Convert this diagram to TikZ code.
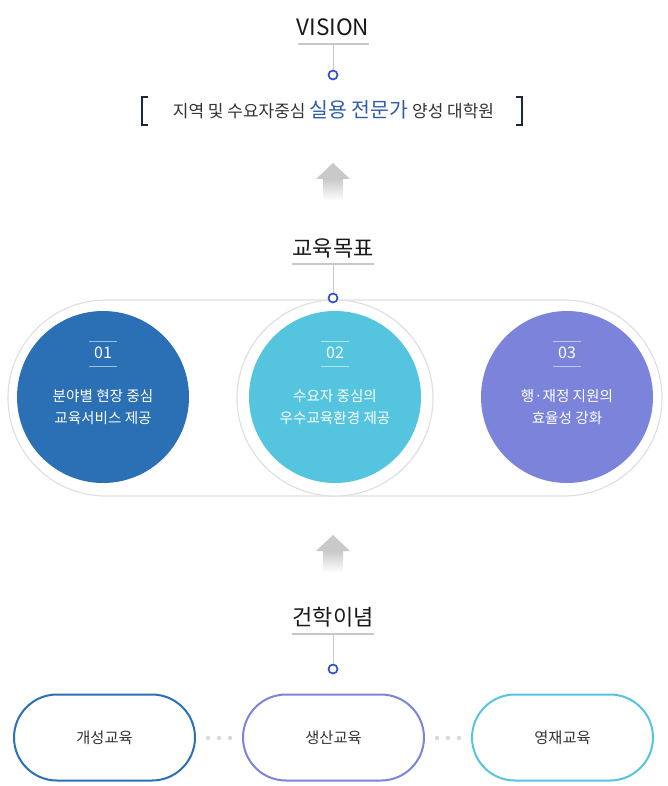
\documentclass[tikz,border=0pt]{standalone}
\usepackage{fontspec}
\setmainfont{Noto Sans CJK KR}
\definecolor{cA}{HTML}{2B6FB4}
\definecolor{cB}{HTML}{55C5DF}
\definecolor{cC}{HTML}{7B84DA}
\definecolor{dotblue}{HTML}{2F4FC9}
\definecolor{brk}{HTML}{1C2541}
\definecolor{bluetxt}{HTML}{2F5DAA}
\definecolor{ulc}{HTML}{C8C8C8}
\definecolor{ringc}{HTML}{E0E0E0}
\definecolor{txt}{HTML}{333333}
\definecolor{arr}{HTML}{C9C9C9}
\tikzset{
  title/.style={font=\fontsize{22}{22}\selectfont, text=black!90, inner sep=0},
  uline/.style={draw=ulc, line width=2pt},
  conn/.style={draw=ulc, line width=1pt},
  hub/.style={circle, draw=dotblue, line width=1.7pt, fill=white, inner sep=0, minimum size=9pt},
  ring/.style={draw=ringc, line width=1.2pt},
  disc/.style={circle, inner sep=0, minimum size=172pt},
  numtxt/.style={font=\fontsize{16}{16}\selectfont, text=white, inner sep=0},
  numline/.style={draw=white, draw opacity=0.55, line width=1pt},
  disctxt/.style={font=\fontsize{14.6}{22}\selectfont, text=white, align=center, inner sep=0},
  pill/.style={draw, line width=2pt, fill=white, rounded corners=43pt, minimum width=181pt, minimum height=86pt, inner sep=0, font=\fontsize{15.3}{15.3}\selectfont, text=txt},
  sep/.style={circle, fill=black!15, inner sep=0, minimum size=4.5pt},
  brack/.style={draw=brk, line width=2.2pt},
}
\begin{document}
\begin{tikzpicture}[x=1pt,y=-1pt]
\useasboundingbox (0,0) rectangle (668,786);
% ---------- VISION ----------
\node[title, font=\fontsize{22.5}{22.5}\selectfont] (vision) at (333,27) {VISION};
\draw[uline] (298,44) -- (369,44);
\coordinate (vu) at (333,45);
\node[hub] (vhub) at (333,75) {};
\draw[conn] (vu) -- (vhub);
\node[inner sep=0, text=txt] (vtext) at (333.5,109.5) {\fontsize{17}{17}\selectfont 지역 및 수요자중심 {\fontsize{20.5}{20.5}\selectfont\color{bluetxt}실용 전문가} 양성 대학원};
\draw[brack] (148,97) -- (142,97) -- (142,125) -- (148,125);
\draw[brack] (516,97) -- (522,97) -- (522,125) -- (516,125);
% arrow 1
\fill[arr] (316,179) -- (333,163) -- (350,179) -- cycle;
\shade[top color=arr, bottom color=white] (323,178.5) rectangle (343,201);
% ---------- 교육목표 ----------
\draw[ring, rounded corners=98pt] (8,300) rectangle (662,496);
\draw[ring, fill=white] (335,398) circle[radius=98];
\node[title] (goal) at (333,248) {교육목표};
\draw[uline] (292,264) -- (374,264);
\coordinate (gu) at (333,265);
\node[hub] (ghub) at (333,298) {};
\draw[conn] (gu) -- (ghub);
% discs
\node[disc, fill=cA] (d1) at (103,397) {};
\node[disc, fill=cB] (d2) at (335,397) {};
\node[disc, fill=cC] (d3) at (567,397) {};
\foreach \d/\n in {d1/01, d2/02, d3/03}{
  \node[numtxt] (\d n) at ([yshift=44pt]\d.center) {\n};
  \draw[numline] ([xshift=-14pt,yshift=56pt]\d.center) -- ([xshift=14pt,yshift=56pt]\d.center);
  \draw[numline] ([xshift=-14pt,yshift=31pt]\d.center) -- ([xshift=14pt,yshift=31pt]\d.center);
}
\node[disctxt] (d1t) at ([yshift=-10pt]d1.center) {분야별 현장 중심\\교육서비스 제공};
\node[disctxt] (d2t) at ([yshift=-10pt]d2.center) {수요자 중심의\\우수교육환경 제공};
\node[disctxt] (d3t) at ([yshift=-10pt]d3.center) {행·재정 지원의\\효율성 강화};
% arrow 2
\fill[arr] (316,551) -- (333,535) -- (350,551) -- cycle;
\shade[top color=arr, bottom color=white] (323,550.5) rectangle (343,573);
% ---------- 건학이념 ----------
\node[title] (phil) at (333,617) {건학이념};
\draw[uline] (292,634) -- (374,634);
\coordinate (pu) at (333,635);
\node[hub] (phub) at (333,669) {};
\draw[conn] (pu) -- (phub);
\node[pill, draw=cA] (p1) at (104.5,737.5) {개성교육};
\node[pill, draw=cC] (p2) at (333.5,737.5) {생산교육};
\node[pill, draw=cB] (p3) at (562.5,737.5) {영재교육};
\foreach \x in {208,219,230,437,448,459}{ \node[sep] at (\x,738) {}; }
\end{tikzpicture}
\end{document}
